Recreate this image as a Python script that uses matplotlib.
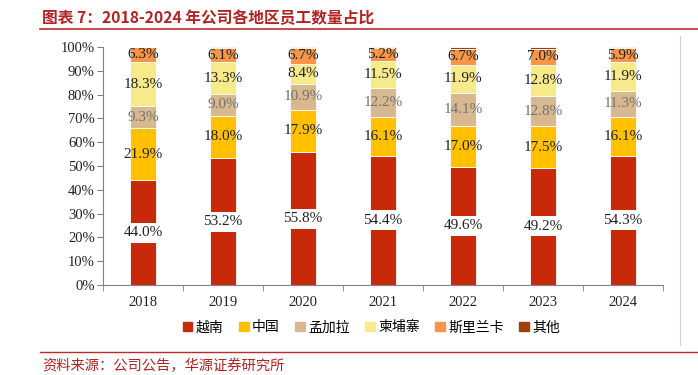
import matplotlib.pyplot as plt
import numpy as np
from matplotlib.lines import Line2D

plt.rcParams['font.family'] = ['Liberation Serif', 'Noto Sans CJK SC']

years = ['2018', '2019', '2020', '2021', '2022', '2023', '2024']
regions = ['越南', '中国', '孟加拉', '柬埔寨', '斯里兰卡', '其他']
vietnam = [44.0, 53.2, 55.8, 54.4, 49.6, 49.2, 54.3]
china = [21.9, 18.0, 17.9, 16.1, 17.0, 17.5, 16.1]
bangladesh = [9.3, 9.0, 10.9, 12.2, 14.1, 12.8, 11.3]
cambodia = [18.3, 13.3, 8.4, 11.5, 11.9, 12.8, 11.9]
srilanka = [6.3, 6.1, 6.7, 5.2, 6.7, 7.0, 5.9]
other = [0.2, 0.4, 0.3, 0.6, 0.7, 0.7, 0.5]

series = [vietnam, china, bangladesh, cambodia, srilanka, other]
colors = ['#C8290A', '#FFC000', '#D8B98F', '#F7EA8A', '#F79646', '#A0410C']
label_colors = ['#222222', '#222222', '#737373', '#222222', '#222222', None]

fig = plt.figure(figsize=(6.98, 3.75), dpi=100)
ax = fig.add_axes([0.1476, 0.24, 0.8024, 0.6347])

x = np.arange(len(years))
bottom = np.zeros(len(years))
for i, (vals, c) in enumerate(zip(series, colors)):
    vals = np.array(vals)
    ax.bar(x, vals, 0.33, bottom=bottom, color=c, edgecolor='white', linewidth=0.6, zorder=2)
    if label_colors[i]:
        for xi, b, v in zip(x, bottom, vals):
            kw = {}
            if i == 0:
                kw['bbox'] = dict(facecolor='white', edgecolor='none', pad=2.5)
            ax.text(xi, b + v / 2, f'{v:.1f}%', ha='center', va='center',
                    fontsize=11, color=label_colors[i], zorder=3, **kw)
    bottom += vals

ax.set_xlim(-0.5, 6.5)
ax.set_ylim(0, 100)
ax.set_yticks(np.arange(0, 101, 10))
ax.set_yticklabels([f'{v}%' for v in range(0, 101, 10)], fontsize=10.5, color='#222222')
ax.set_xticks(x)
ax.set_xticklabels(years, fontsize=10.5, color='#222222')
ax.set_xticks(np.arange(-0.5, 7, 1), minor=True)
ax.tick_params(axis='x', which='major', length=0, pad=8)
ax.tick_params(axis='x', which='minor', length=4, color='#808080')
ax.tick_params(axis='y', length=4, color='#808080', pad=2)
for s in ['top', 'right']:
    ax.spines[s].set_visible(False)
for s in ['left', 'bottom']:
    ax.spines[s].set_color('#808080')

handles = [plt.Rectangle((0, 0), 1, 1, color=c) for c in colors]
fig.legend(handles, regions, loc='center', bbox_to_anchor=(0.532, 0.127), ncol=6,
           frameon=False, handlelength=0.7, handleheight=0.7,
           handletextpad=0.25, columnspacing=1.1,
           prop={'family': ['Noto Sans CJK SC'], 'size': 10})

fig.text(0.06, 0.952, '图表 7：2018-2024 年公司各地区员工数量占比', fontsize=11.3,
         fontweight='bold', color='#B22222', va='center',
         family=['Noto Sans CJK SC', 'DejaVu Sans'])
fig.add_artist(Line2D([0.057, 1.0], [0.923, 0.923], color='#C0282D', linewidth=1.2))
fig.add_artist(Line2D([0.057, 1.0], [0.062, 0.062], color='#C0282D', linewidth=1.0))
fig.add_artist(Line2D([0.974, 0.974], [0.08, 0.905], color='#D0D0D0', linewidth=0.8))
fig.text(0.06, 0.025, '资料来源：公司公告，华源证券研究所', fontsize=10.3, color='#B22222',
         va='center', family=['Noto Sans CJK SC', 'DejaVu Sans'])

fig.savefig('out.png', dpi=100)
